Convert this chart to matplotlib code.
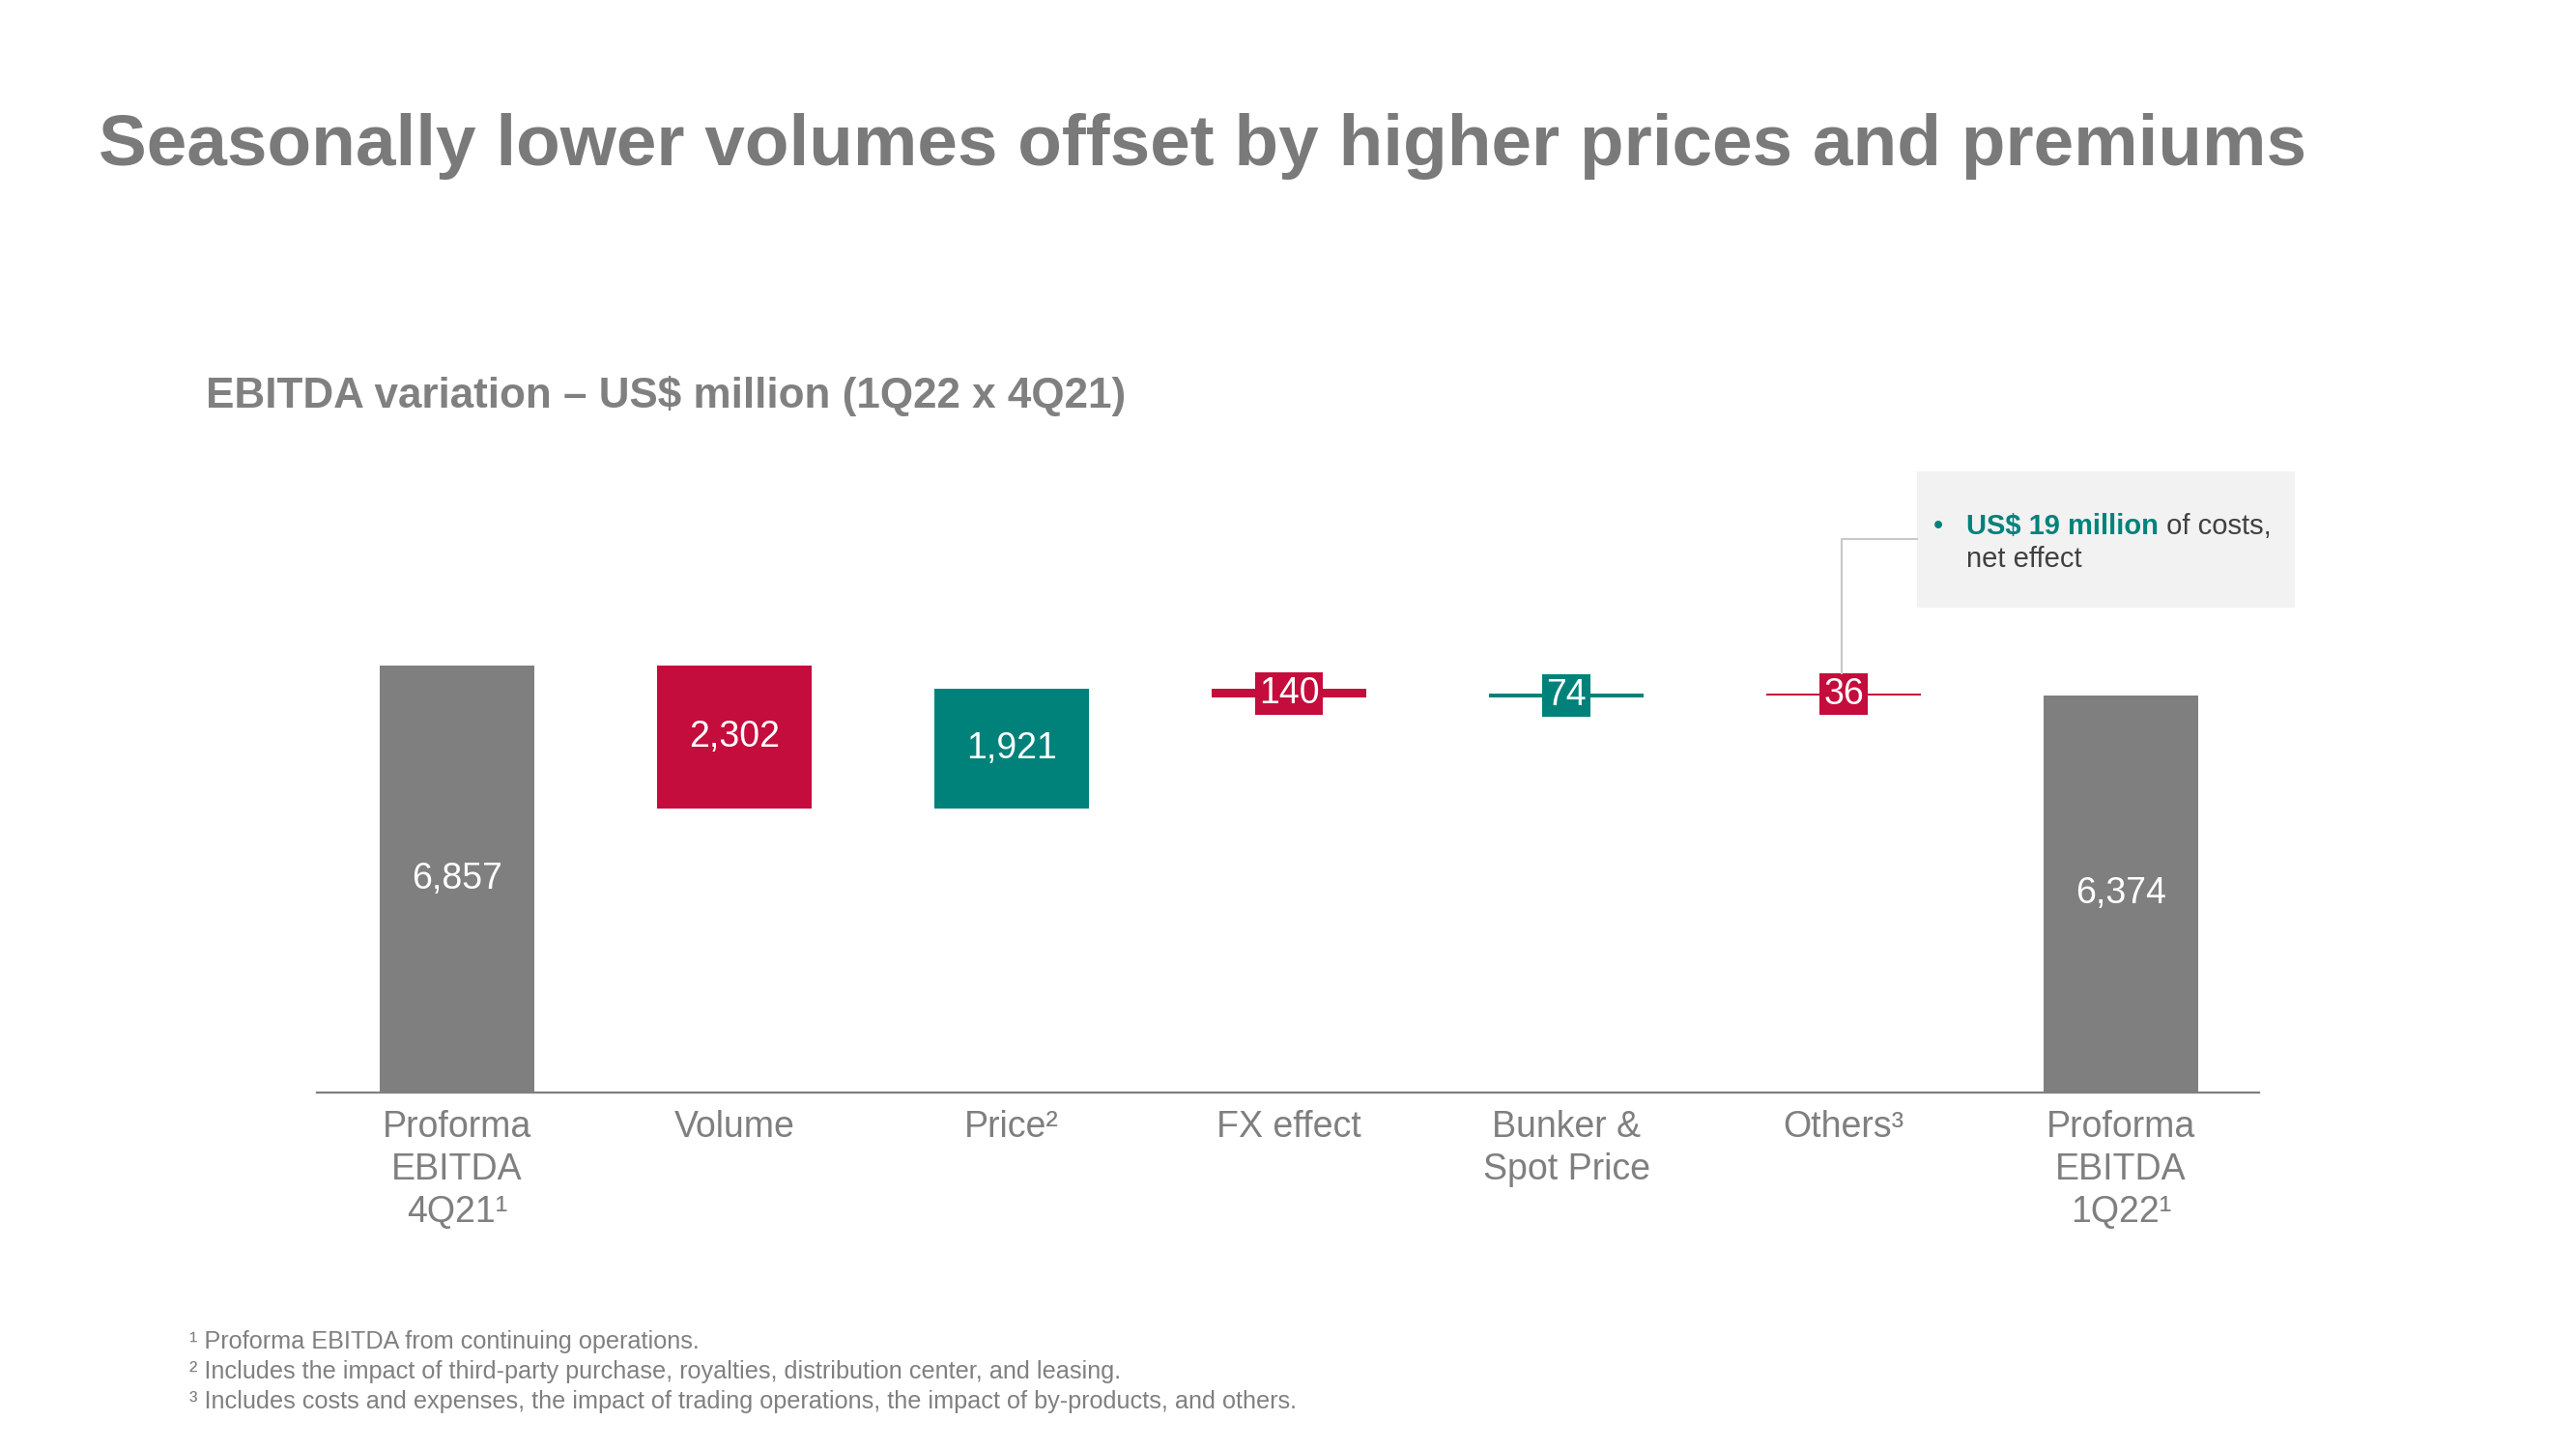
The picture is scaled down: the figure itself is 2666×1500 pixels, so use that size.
import matplotlib
matplotlib.use('Agg')
import matplotlib.pyplot as plt
from matplotlib.patches import Rectangle

plt.rcParams['font.family'] = ['Liberation Sans', 'DejaVu Sans']

# data
categories = ['Proforma\nEBITDA\n4Q21¹', 'Volume', 'Price²', 'FX effect',
              'Bunker &\nSpot Price', 'Others³', 'Proforma\nEBITDA\n1Q22¹']
start_value = 6857
deltas = [-2302, 1921, -140, 74, -36]
end_value = 6374
note_bold = 'US$ 19 million'
note_rest = ' of costs,'
note_line2 = 'net effect'
footnotes = ['¹ Proforma EBITDA from continuing operations.',
             '² Includes the impact of third-party purchase, royalties, distribution center, and leasing.',
             '³ Includes costs and expenses, the impact of trading operations, the impact of by-products, and others.']

GRAY = '#7F7F7F'
RED = '#C40D3C'
TEAL = '#00827B'
TXT = '#7F7F7F'

W, H = 2666, 1500
fig = plt.figure(figsize=(W / 100, H / 100), dpi=100)
fig.patch.set_facecolor('white')
r = fig.canvas.get_renderer()


def fit_width(t, target_px):
    # shrink/grow a text so it spans the same width as in the slide
    w = t.get_window_extent(r).width
    t.set_fontsize(t.get_fontsize() * target_px / w)


ax = fig.add_axes([328 / W, 1 - 1131 / H, 2010 / W, 0.43])

# waterfall geometry
bottoms, heights, colors = [0], [start_value], [GRAY]
level = start_value
for d in deltas:
    if d < 0:
        bottoms.append(level + d)
    else:
        bottoms.append(level)
    heights.append(abs(d))
    colors.append(RED if d < 0 else TEAL)
    level += d
bottoms.append(0)
heights.append(end_value)
colors.append(GRAY)

xs = list(range(len(categories)))
bw = 0.557
ax.bar(xs, heights, bw, bottom=bottoms, color=colors, linewidth=0)

values = [start_value] + [abs(d) for d in deltas] + [end_value]
for x, b, h, v, c in zip(xs, bottoms, heights, values, colors):
    mid = b + h / 2
    if h > 500:
        ax.text(x, mid, f'{v:,}', ha='center', va='center', color='white', fontsize=27)
    else:
        ax.text(x, mid, f'{v:,}', ha='center', va='center', color='white', fontsize=27,
                bbox=dict(boxstyle='square,pad=0.1', facecolor=c, edgecolor='none'))

ax.set_xlim(-0.505, 6.498)
ax.set_ylim(0, 10000)
for s in ['top', 'right', 'left']:
    ax.spines[s].set_visible(False)
ax.spines['bottom'].set_color(GRAY)
ax.spines['bottom'].set_linewidth(1.6)
ax.set_yticks([])
ax.set_xticks(xs)
ax.set_xticklabels(categories, fontsize=27, color=TXT, linespacing=1.28)
ax.tick_params(axis='x', length=0, pad=13)

# titles
t = fig.text(102 / W, 1 - 171 / H, 'Seasonally lower volumes offset by higher prices and premiums',
             fontsize=55, fontweight='bold', color='#7A7A7A', va='baseline')
fit_width(t, 2287)
fig.text(213 / W, 1 - 422 / H, 'EBITDA variation – US$ million (1Q22 x 4Q21)',
         fontsize=31.7, fontweight='bold', color='#808080', va='baseline')

# callout box
fig.patches.append(Rectangle((1984 / W, 1 - 629 / H), 391 / W, 141 / H,
                             transform=fig.transFigure, facecolor='#F2F2F2', edgecolor='none'))
fig.add_artist(plt.Line2D([1984 / W, 1906 / W, 1906 / W], [1 - 558 / H, 1 - 558 / H, 1 - 697 / H],
                          transform=fig.transFigure, color='#C8C8C8', linewidth=1.5))
fig.text(2001 / W, 1 - 545 / H, '•', fontsize=21, color=TEAL, va='center')
tb = fig.text(2035 / W, 1 - 545 / H, note_bold, fontsize=21, fontweight='bold', color=TEAL, va='center')
bb = tb.get_window_extent(r)
fig.text(bb.x1 / W, 1 - 545 / H, note_rest, fontsize=21, color='#404040', va='center')
fig.text(2035 / W, 1 - 579 / H, note_line2, fontsize=21, color='#404040', va='center')

# footnotes
for i, f in enumerate(footnotes):
    fig.text(196 / W, 1 - (1389 + 31 * i) / H, f, fontsize=18.2, color='#808080', va='center')

fig.savefig('out.png', dpi=100)
